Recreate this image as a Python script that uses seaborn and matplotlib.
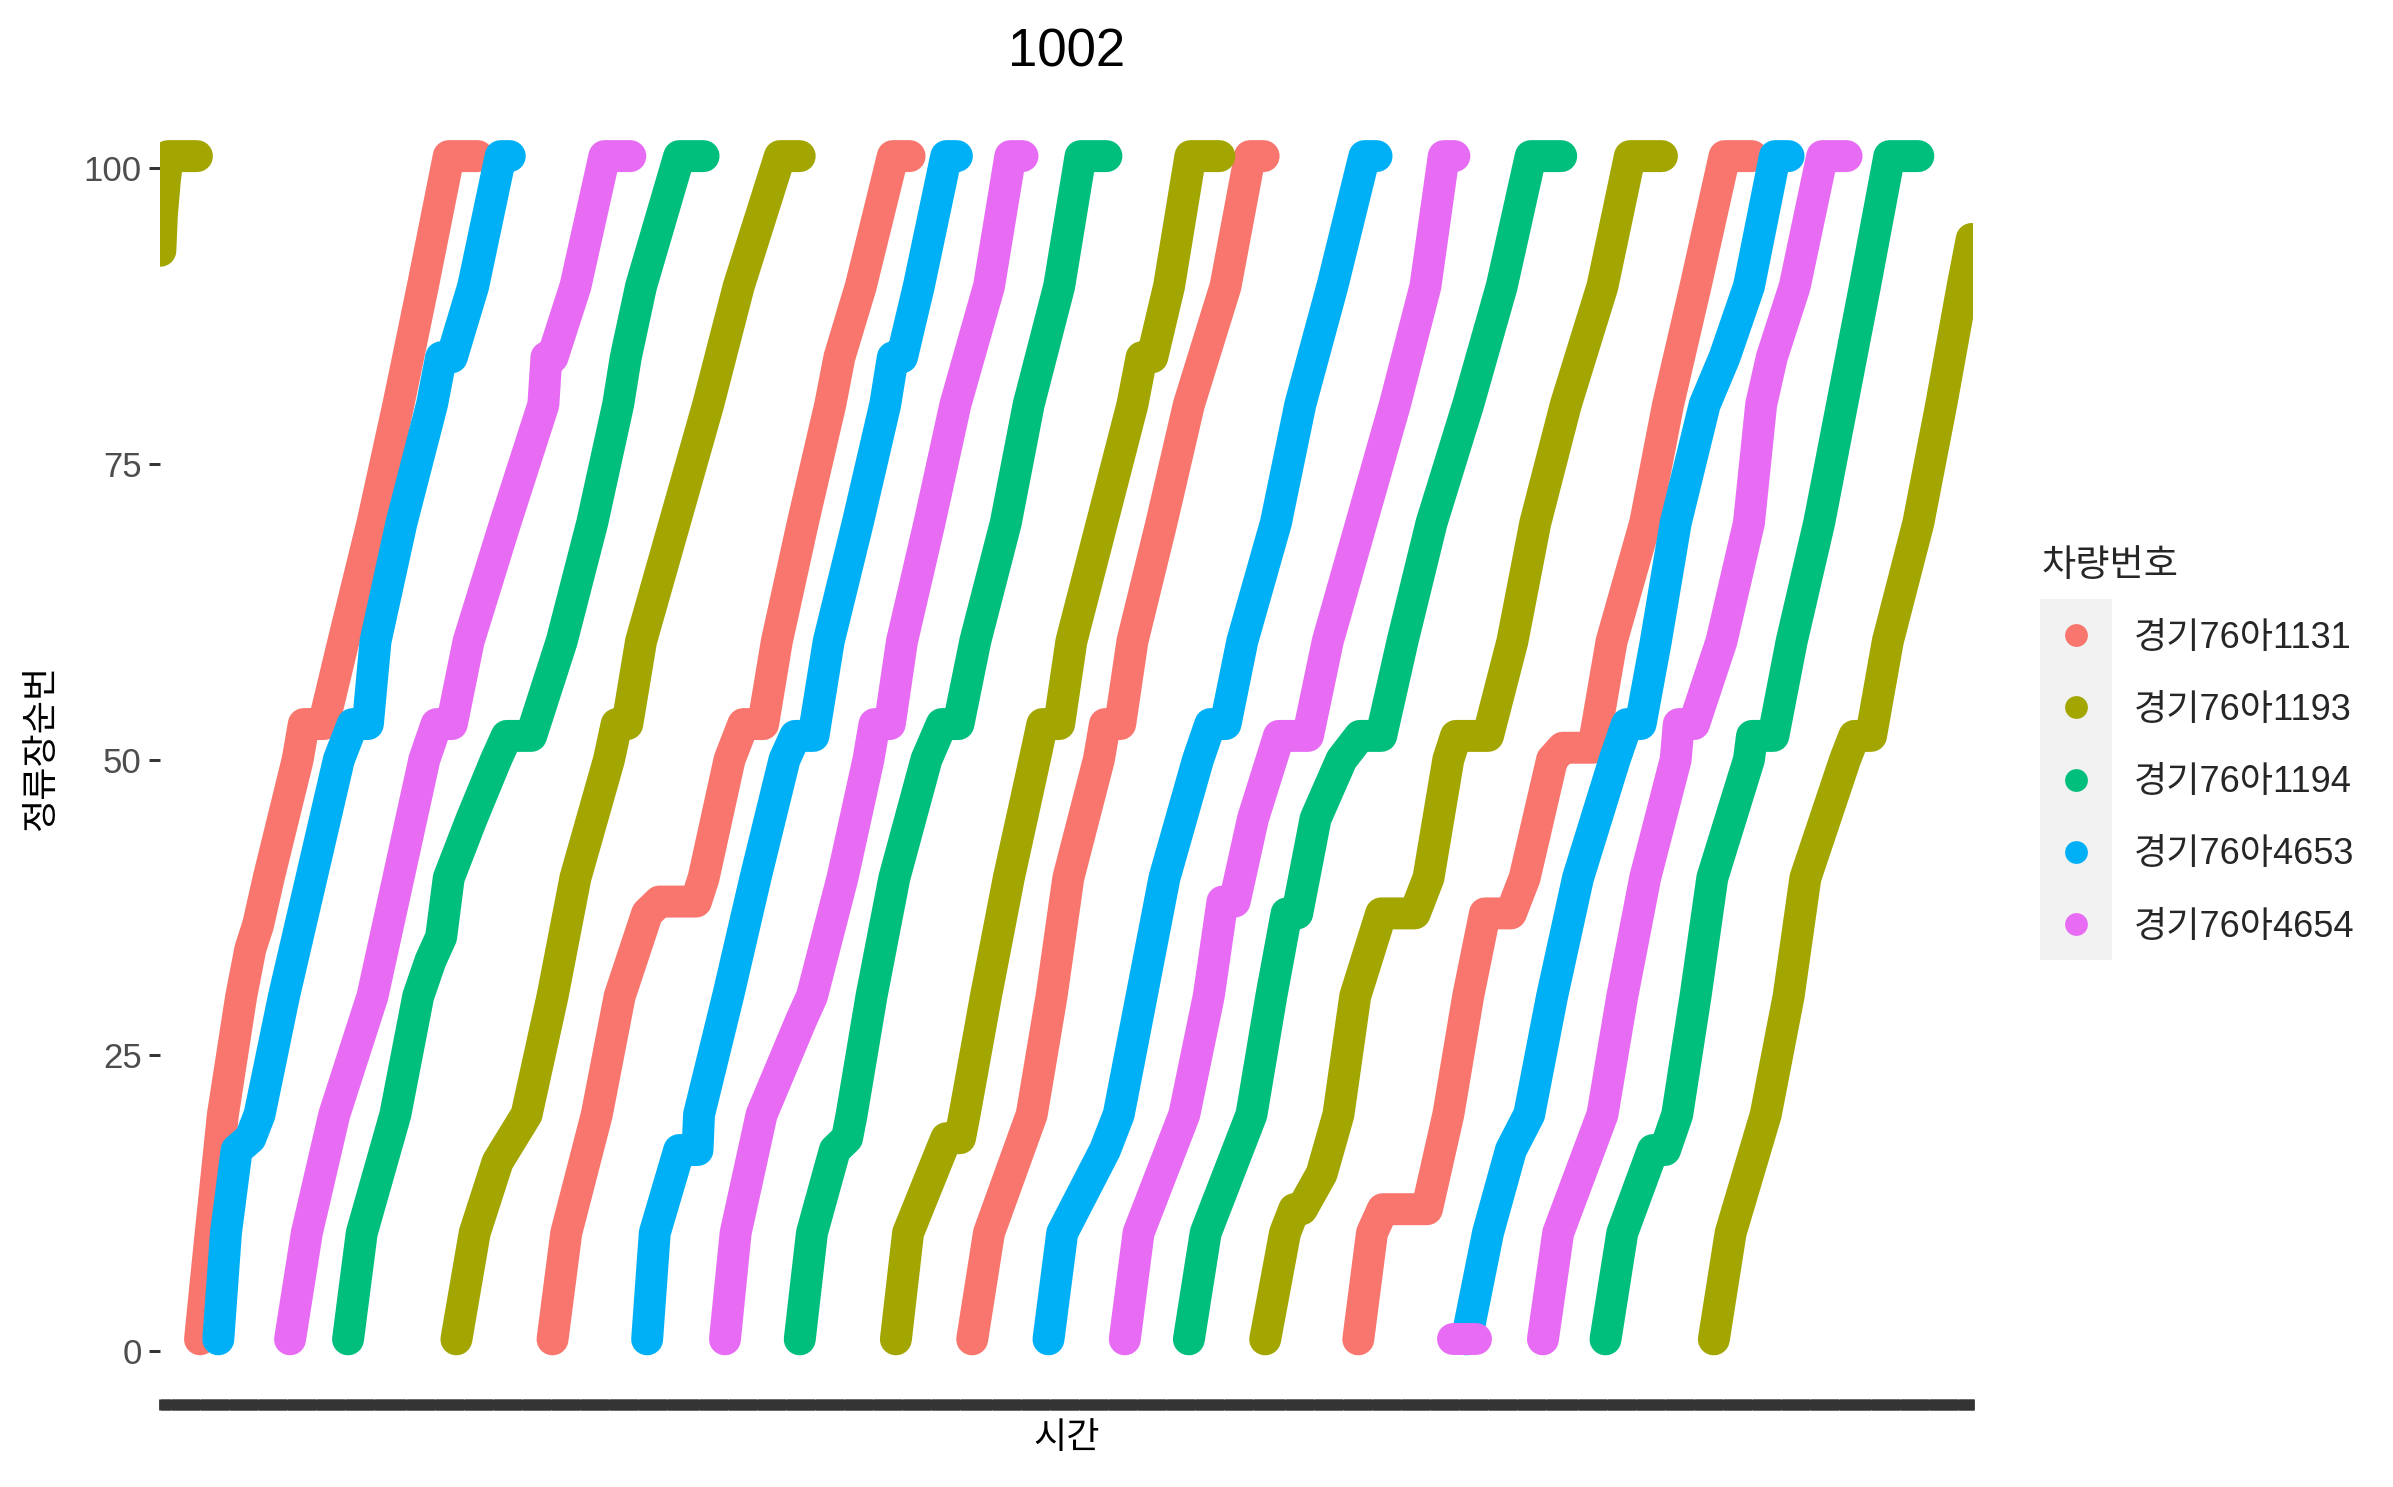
import matplotlib
matplotlib.use("Agg")
import matplotlib.pyplot as plt
from matplotlib.lines import Line2D
from matplotlib.patches import Rectangle
import numpy as np
import pandas as pd
import seaborn as sns

TITLE = "1002"
X_LABEL = "시간"
Y_LABEL = "정류장순번"
LEGEND_TITLE = "차량번호"
VEHICLES = ["경기76아1131", "경기76아1193", "경기76아1194", "경기76아4653", "경기76아4654"]
COLORS = ["#F8766D", "#A3A500", "#00BF7D", "#00B0F6", "#E76BF3"]
Y_TICKS = [0, 25, 50, 75, 100]
DAY_MINUTES = 1188

# each trip: (stop order, minutes since first record)
trips_1131 = [
    [(1, 26), (10, 33), (20, 41), (30, 53), (34, 59), (36, 64), (40, 71), (50, 90), (53, 94), (53, 107),
     (60, 120), (70, 139), (80, 156), (90, 172), (101, 189), (101, 208)],
    [(1, 257), (10, 266), (20, 286), (30, 301), (37, 319), (38, 327), (38, 351), (40, 356), (50, 373),
     (53, 382), (53, 395), (60, 404), (70, 421), (80, 439), (84, 445), (90, 459), (101, 480), (101, 491)],
    [(1, 532), (10, 543), (20, 571), (30, 584), (40, 595), (50, 615), (53, 619), (53, 629), (60, 637),
     (70, 656), (80, 674), (90, 698), (101, 714), (101, 723)],
    [(1, 785), (10, 794), (12, 801), (12, 830), (20, 844), (30, 857), (37, 868), (37, 885), (40, 894),
     (50, 912), (51, 919), (51, 939), (60, 951), (70, 973), (80, 988), (90, 1006), (101, 1025), (101, 1043)],
]
trips_1193 = [
    [(93, 0), (96, 1), (99, 3), (101, 5), (101, 24)],
    [(1, 194), (10, 206), (16, 221), (20, 240), (30, 257), (40, 272), (50, 294), (53, 299), (53, 306),
     (60, 315), (70, 337), (80, 359), (90, 379), (101, 406), (101, 419)],
    [(1, 482), (10, 490), (18, 515), (18, 524), (20, 527), (30, 541), (40, 556), (50, 573), (53, 578),
     (53, 589), (60, 597), (70, 617), (80, 637), (84, 643), (84, 650), (90, 661), (101, 675), (101, 694)],
    [(1, 724), (10, 737), (12, 743), (12, 748), (15, 761), (20, 772), (30, 783), (37, 800), (37, 822),
     (40, 831), (50, 844), (52, 849), (52, 870), (60, 886), (70, 901), (80, 921), (90, 945), (101, 963),
     (101, 984)],
    [(1, 1018), (10, 1029), (20, 1052), (30, 1067), (40, 1078), (50, 1104), (52, 1110), (52, 1121),
     (60, 1132), (70, 1152), (80, 1167), (90, 1181), (94, 1187)],
]
trips_1194 = [
    [(1, 123), (10, 132), (20, 154), (30, 169), (33, 177), (35, 184), (40, 189), (45, 204), (50, 220),
     (52, 227), (52, 243), (60, 263), (70, 283), (80, 300), (84, 305), (90, 315), (101, 340), (101, 356)],
    [(1, 419), (10, 427), (17, 442), (18, 450), (20, 453), (30, 466), (40, 481), (50, 502), (53, 512),
     (53, 523), (60, 534), (70, 554), (80, 569), (90, 589), (101, 603), (101, 620)],
    [(1, 674), (10, 685), (17, 706), (20, 715), (30, 728), (37, 738), (37, 745), (45, 757), (50, 774),
     (52, 786), (52, 800), (60, 814), (70, 833), (80, 857), (90, 879), (101, 898), (101, 918)],
    [(1, 947), (10, 958), (17, 978), (17, 986), (20, 994), (30, 1006), (40, 1017), (50, 1041), (52, 1043),
     (52, 1057), (60, 1069), (70, 1087), (80, 1102), (90, 1117), (101, 1133), (101, 1152)],
]
trips_4653 = [
    [(1, 38), (10, 43), (17, 50), (18, 59), (20, 65), (30, 81), (40, 99), (50, 117), (53, 126), (53, 136),
     (60, 141), (70, 158), (80, 178), (84, 184), (84, 191), (90, 205), (101, 223), (101, 229)],
    [(1, 319), (10, 324), (17, 340), (17, 352), (20, 353), (30, 372), (40, 390), (50, 409), (52, 416),
     (52, 428), (60, 438), (70, 457), (80, 475), (84, 480), (84, 486), (90, 497), (101, 515), (101, 522)],
    [(1, 582), (10, 591), (17, 619), (20, 628), (30, 643), (40, 658), (50, 680), (53, 688), (53, 698),
     (60, 709), (70, 731), (80, 747), (90, 768), (101, 789), (101, 797)],
    [(1, 856), (10, 870), (17, 885), (20, 897), (30, 912), (40, 929), (50, 953), (53, 961), (53, 970),
     (60, 980), (70, 993), (80, 1012), (84, 1025), (90, 1041), (101, 1058), (101, 1067)],
]
trips_4654 = [
    [(1, 85), (10, 96), (20, 114), (30, 139), (40, 156), (50, 173), (53, 181), (53, 191), (60, 202),
     (70, 226), (80, 251), (84, 253), (84, 257), (90, 272), (101, 291), (101, 308)],
    [(1, 370), (10, 377), (20, 394), (28, 420), (30, 427), (40, 447), (50, 464), (53, 468), (53, 478),
     (60, 486), (70, 504), (80, 521), (90, 543), (101, 557), (101, 565)],
    [(1, 632), (10, 641), (20, 671), (30, 687), (38, 696), (38, 704), (45, 716), (52, 733), (52, 752),
     (60, 765), (70, 787), (80, 809), (90, 829), (101, 841), (101, 848)],
    [(1, 847), (1, 862)],
    [(1, 906), (10, 916), (20, 945), (30, 958), (40, 973), (50, 993), (53, 995), (53, 1005), (60, 1023),
     (70, 1041), (80, 1049), (84, 1056), (90, 1071), (101, 1089), (101, 1105)],
]

rows = []
for vehicle, trips in zip(VEHICLES, [trips_1131, trips_1193, trips_1194, trips_4653, trips_4654]):
    for k, trip in enumerate(trips):
        for stop, minute in trip:
            rows.append({"vehicle": vehicle, "trip": f"{vehicle}-{k}", "minute": minute, "stop": stop})
df = pd.DataFrame(rows)

sns.set_theme(style="white")
plt.rcParams["font.family"] = ["Liberation Sans", "Noto Sans CJK KR"]

fig = plt.figure(figsize=(11.965, 7.435), dpi=200)
ax = fig.add_axes([0.067, 0.0595, 0.7576, 0.8753])

sns.lineplot(data=df, x="minute", y="stop", hue="vehicle", hue_order=VEHICLES, palette=COLORS,
             units="trip", estimator=None, sort=False, linewidth=11.5, legend=False, ax=ax)
for line in ax.lines:
    line.set_solid_capstyle("round")
    line.set_solid_joinstyle("round")

ax.set_xlim(0, DAY_MINUTES)
ax.set_ylim(-4, 106)
sns.despine(ax=ax, left=True, bottom=True)

# one tick per minute, like the crowded discrete time axis
ax.set_xticks(np.arange(0, DAY_MINUTES + 1))
ax.tick_params(axis="x", bottom=True, labelbottom=False, length=4, width=1, color="#333333")
ax.set_yticks(Y_TICKS)
ax.tick_params(axis="y", left=True, length=4, width=1.07, color="#333333",
               labelcolor="#4D4D4D", labelsize=12.5, pad=2.7)

ax.set_xlabel(X_LABEL, fontsize=13, labelpad=4, color="black")
ax.set_ylabel(Y_LABEL, fontsize=13, labelpad=9, color="black")
ax.set_title(TITLE, fontsize=19, pad=11, color="black")

handles = [Line2D([], [], linestyle="", marker="o", markersize=7.2,
                  markerfacecolor=c, markeredgecolor=c) for c in COLORS]
leg = fig.legend(handles, VEHICLES, title=LEGEND_TITLE, loc="upper left",
                 bbox_to_anchor=(0.853, 0.631), frameon=False, fontsize=13,
                 title_fontsize=13.4, handlelength=1.9, handletextpad=0.65,
                 labelspacing=1.03, borderpad=0, borderaxespad=0, alignment="left")

# grey key background behind the legend markers
fig.canvas.draw()
renderer = fig.canvas.get_renderer()
ext = [h.get_window_extent(renderer) for h in leg.legend_handles]
cx = np.mean([(e.x0 + e.x1) / 2 for e in ext])
cys = [(e.y0 + e.y1) / 2 for e in ext]
step = (cys[0] - cys[-1]) / (len(cys) - 1)
key_w = 72
x0, y0 = cx - key_w / 2, cys[-1] - step / 2
W, H = fig.bbox.width, fig.bbox.height
fig.add_artist(Rectangle((x0 / W, y0 / H), key_w / W, step * len(cys) / H,
                         transform=fig.transFigure, facecolor="#F2F2F2", edgecolor="none", zorder=0))

fig.savefig("out.png", dpi=200)
